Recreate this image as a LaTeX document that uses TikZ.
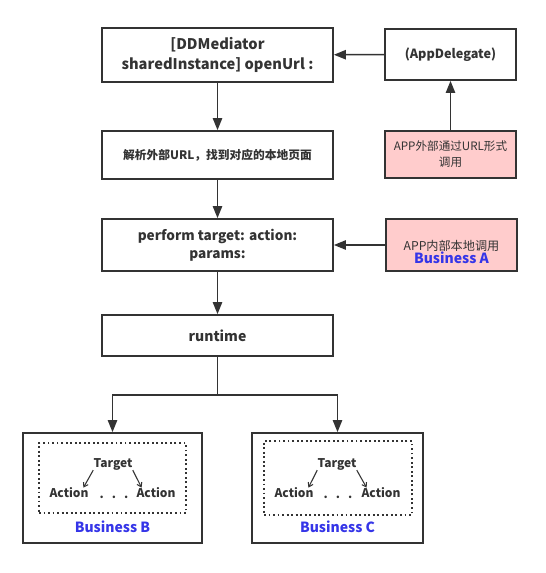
\documentclass[tikz,border=0pt]{standalone}
\usepackage{fontspec}
\setmainfont{Noto Sans CJK SC}
\usetikzlibrary{arrows.meta}
\definecolor{ink}{HTML}{333333}
\definecolor{pinkf}{HTML}{FFCCCC}
\definecolor{bizblue}{HTML}{3535E8}
\begin{document}
\begin{tikzpicture}[x=0.75pt,y=-0.75pt,
  box/.style={draw=ink,line width=1.3pt,fill=white,rectangle,inner sep=0pt,text=ink,align=center,
    font=\fontsize{10.5pt}{14pt}\selectfont\bfseries},
  pbox/.style={box,fill=pinkf,font=\fontsize{8.7pt}{12pt}\selectfont},
  dbox/.style={draw=ink,line width=1.4pt,dotted,rectangle,inner sep=0pt},
  lbl/.style={text=ink,inner sep=1pt,font=\fontsize{9pt}{11pt}\selectfont\bfseries},
  biz/.style={text=bizblue,inner sep=0pt,font=\fontsize{10.5pt}{12pt}\selectfont\bfseries},
  arr/.style={draw=ink,line width=1.1pt,-{Triangle[length=9pt,width=7pt]}},
  sarr/.style={draw=ink,line width=0.8pt,-{Straight Barb[length=3pt,width=4pt]}}]
\useasboundingbox (0,0) rectangle (545,573);
% main column
\node[box,minimum width=231*0.75pt,minimum height=54*0.75pt,font=\fontsize{11pt}{15pt}\selectfont\bfseries] (med) at (217.5,55)
  {[DDMediator\\sharedInstance] openUrl :};
\node[box,minimum width=231*0.75pt,minimum height=48*0.75pt,font=\fontsize{8.8pt}{12pt}\selectfont\bfseries] (parse) at (217.5,155)
  {解析外部URL，找到对应的本地页面};
\node[box,minimum width=231*0.75pt,minimum height=52*0.75pt,font=\fontsize{10.2pt}{13.5pt}\selectfont\bfseries] (perf) at (217.5,245)
  {perform target: action:\\params:};
\node[box,minimum width=231*0.75pt,minimum height=41*0.75pt] (rt) at (217.5,335.5)
  {runtime};
% right column
\node[box,minimum width=131*0.75pt,minimum height=51*0.75pt,font=\fontsize{9.5pt}{12pt}\selectfont\bfseries] (app) at (450.5,54.5)
  {(AppDelegate)};
\node[pbox,minimum width=131*0.75pt,minimum height=47*0.75pt] (ext) at (450.5,154.5)
  {APP外部通过URL形式\\调用};
\node[pbox,minimum width=131*0.75pt,minimum height=52*0.75pt] (bA) at (451.5,245) {};
\node[text=ink,inner sep=0pt,font=\fontsize{9.1pt}{12pt}\selectfont] (bAt) at (451.5,245.5) {APP内部本地调用};
\node[biz] (bAn) at (451.5,258) {Business A};
% bottom boxes
\node[box,minimum width=179*0.75pt,minimum height=110*0.75pt] (bB) at (112.5,488) {};
\node[dbox,minimum width=147*0.75pt,minimum height=70*0.75pt] (dB) at (112.5,478) {};
\node[lbl] (tB) at (113,464) {Target};
\node[lbl] (aB1) at (69,493) {Action};
\node[lbl] (aB2) at (156,493) {Action};
\node[lbl] (eB) at (114,497) {.\hspace{6pt}.\hspace{6pt}.};
\node[biz] (nB) at (112.5,527) {Business B};
\node[box,minimum width=171*0.75pt,minimum height=110*0.75pt] (bC) at (337.5,488) {};
\node[dbox,minimum width=148*0.75pt,minimum height=74*0.75pt] (dC) at (338,478) {};
\node[lbl] (tC) at (337,464) {Target};
\node[lbl] (aC1) at (294,493) {Action};
\node[lbl] (aC2) at (381,493) {Action};
\node[lbl] (eC) at (338,497) {.\hspace{6pt}.\hspace{6pt}.};
\node[biz] (nC) at (337.5,527) {Business C};
% connectors
\draw[arr] (med) -- (parse);
\draw[arr] (parse) -- (perf);
\draw[arr] (perf) -- (rt);
\draw[arr] (app) -- (med);
\draw[arr] (ext) -- (app);
\draw[arr] (bA) -- (perf);
\coordinate (split) at (217.5,395);
\draw[draw=ink,line width=1.1pt] (rt.south) -- (split);
\draw[arr] (split) -| (bB.north);
\draw[arr] (split) -| (bC.north);
\draw[sarr] ([xshift=1pt,yshift=1pt]tB.south west) -- ([xshift=-5pt,yshift=-1pt]aB1.north east);
\draw[sarr] ([xshift=-1pt,yshift=1pt]tB.south east) -- ([xshift=5pt,yshift=-1pt]aB2.north west);
\draw[sarr] ([xshift=1pt,yshift=1pt]tC.south west) -- ([xshift=-5pt,yshift=-1pt]aC1.north east);
\draw[sarr] ([xshift=-1pt,yshift=1pt]tC.south east) -- ([xshift=5pt,yshift=-1pt]aC2.north west);
\end{tikzpicture}
\end{document}
